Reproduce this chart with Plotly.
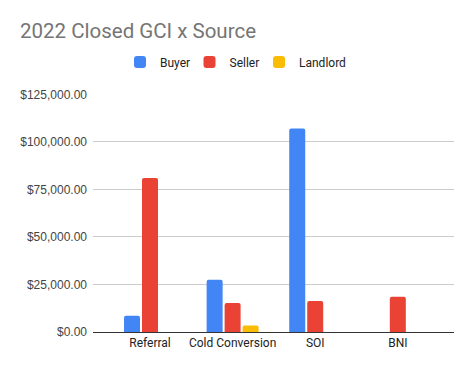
import plotly.graph_objects as go

categories = ["Referral", "Cold Conversion", "SOI", "BNI"]
buyer = [8600, 27500, 107000, None]
seller = [81000, 15200, 16300, 18500]
landlord = [None, 3400, None, None]
y_ticks = [0, 25000, 50000, 75000, 100000, 125000]
y_tick_labels = ["$0.00", "$25,000.00", "$50,000.00", "$75,000.00", "$100,000.00", "$125,000.00"]

series = [("Buyer", buyer, "#4285F4"), ("Seller", seller, "#EA4335"), ("Landlord", landlord, "#FBBC04")]

W, H = 457, 355  # page body has an 8px margin
OFF = 8

fig = go.Figure()
for name, vals, color in series:
    fig.add_trace(go.Bar(x=categories, y=vals, name=name,
                         marker=dict(color=color, line=dict(width=0), cornerradius=2)))
# invisible spacer entry so the last legend label is not clipped
fig.add_trace(go.Scatter(x=[None], y=[None], mode="markers", name="\u00a0",
                         marker=dict(color="rgba(0,0,0,0)", size=1, line=dict(width=0)),
                         showlegend=True, hoverinfo="skip"))

fig.update_layout(
    width=W, height=H,
    margin=dict(l=93 - OFF, r=W - (454 - OFF), t=89 - OFF, b=H - (332 - OFF)),
    paper_bgcolor="white", plot_bgcolor="white",
    barmode="group", bargap=0.347, bargroupgap=0.11,
    font=dict(family="Roboto, Arial, sans-serif", size=12, color="#222222"),
    title=dict(text="2022 Closed GCI x Source", x=(20 - OFF) / W, xanchor="left", xref="container",
               y=1 - (31 - OFF) / H, yanchor="middle", yref="container",
               font=dict(family="Roboto, Arial, sans-serif", size=20.5, color="#757575")),
    legend=dict(orientation="h", x=(134 - OFF - 14) / W, xanchor="left", xref="container",
                y=1 - (62 - OFF) / H, yanchor="middle", yref="container",
                entrywidth=24.5, entrywidthmode="pixels",
                font=dict(size=12, color="#222222"), itemclick=False),
    xaxis=dict(range=[-0.69, 3.68], showgrid=False, showline=True, linecolor="#333333",
               linewidth=1, ticks="", tickfont=dict(size=12, color="#222222"), fixedrange=True),
    yaxis=dict(range=[0, 125000], tickvals=y_ticks, ticktext=y_tick_labels,
               showgrid=True, gridcolor="#cccccc", gridwidth=1, zeroline=False,
               ticks="", ticklabelstandoff=5,
               tickfont=dict(family="Arial, Liberation Sans, sans-serif", size=12, color="#444444"),
               fixedrange=True),
    hovermode=False,
)

fig.write_html("out.html")
